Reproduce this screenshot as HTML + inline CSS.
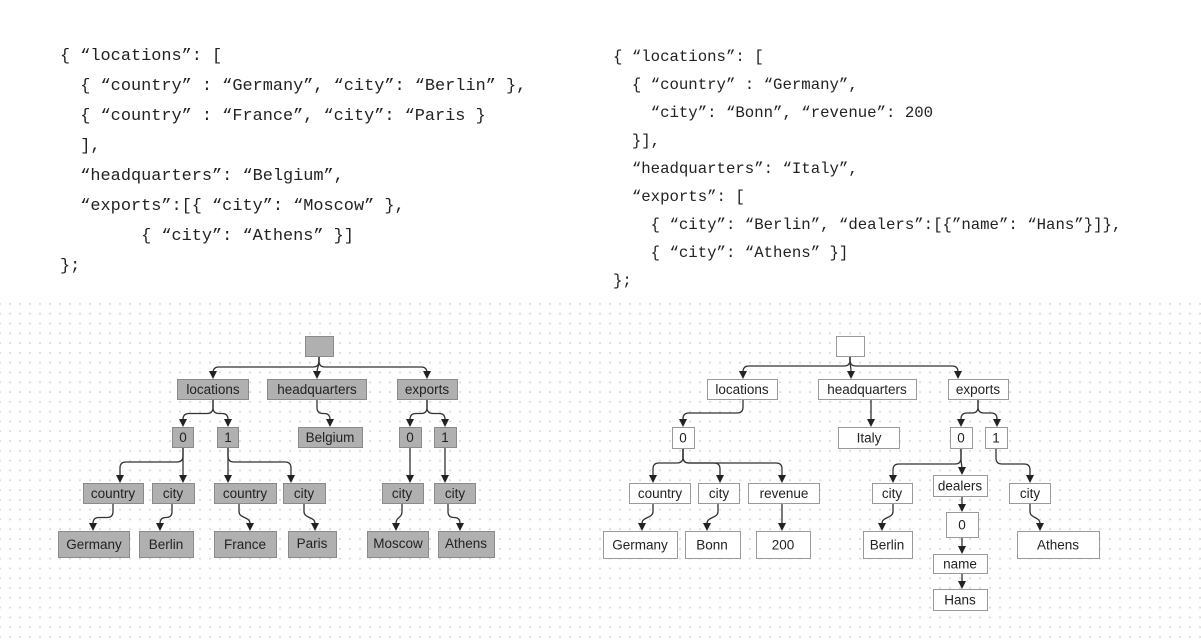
<!DOCTYPE html>
<html><head><meta charset="utf-8">
<style>
html,body{margin:0;padding:0;background:#fff;width:1201px;height:641px;overflow:hidden;position:relative}
.dots{position:absolute;left:0;top:299px;width:1201px;height:342px;background-image:radial-gradient(circle,#dadada 0.8px,transparent 1.2px);background-size:10px 9.8px;background-position:5px 0}
pre{position:absolute;margin:0;font-family:"Liberation Mono",monospace;color:#222}
#c1{left:60px;top:42px;font-size:16.9px;line-height:30px}
#c2{left:613px;top:43px;font-size:15.7px;line-height:28px}
svg{position:absolute;left:0;top:0}
svg text{font-family:"Liberation Sans",sans-serif;font-size:13.5px;fill:#222;text-anchor:middle;dominant-baseline:central}
.g rect{fill:#b0b0b0;stroke:#8a8a8a;stroke-width:1}
.w rect{fill:#fff;stroke:#9a9a9a;stroke-width:1}
</style></head><body>
<div class="dots"></div>
<pre id="c1">{ “locations”: [
  { “country” : “Germany”, “city”: “Berlin” },
  { “country” : “France”, “city”: “Paris }
  ],
  “headquarters”: “Belgium”,
  “exports”:[{ “city”: “Moscow” },
        { “city”: “Athens” }]
};</pre>
<pre id="c2">{ “locations”: [
  { “country” : “Germany”,
    “city”: “Bonn”, “revenue”: 200
  }],
  “headquarters”: “Italy”,
  “exports”: [
    { “city”: “Berlin”, “dealers”:[{”name”: “Hans”}]},
    { “city”: “Athens” }]
};</pre>
<svg width="1201" height="641" xmlns="http://www.w3.org/2000/svg">
<g id="edges" fill="none" stroke="#333" stroke-width="1.3"></g>
<g id="heads" fill="#222"></g>
<g class="g">
<rect x="305.5" y="336.5" width="28" height="20"/>
<rect x="177.5" y="379.5" width="71" height="20"/><text x="213" y="389.5">locations</text>
<rect x="267.5" y="379.5" width="99" height="20"/><text x="317" y="389.5">headquarters</text>
<rect x="397.5" y="379.5" width="60" height="20"/><text x="427" y="389.5">exports</text>
<rect x="172.5" y="427.5" width="21" height="20"/><text x="183" y="437.5">0</text>
<rect x="217.5" y="427.5" width="21" height="20"/><text x="228" y="437.5">1</text>
<rect x="298.5" y="427.5" width="64" height="20"/><text x="330" y="437.5">Belgium</text>
<rect x="399.5" y="427.5" width="22" height="20"/><text x="410" y="437.5">0</text>
<rect x="434.5" y="427.5" width="22" height="20"/><text x="445" y="437.5">1</text>
<rect x="83.5" y="483.5" width="60" height="20"/><text x="113" y="493.5">country</text>
<rect x="152.5" y="483.5" width="42" height="20"/><text x="173" y="493.5">city</text>
<rect x="214.5" y="483.5" width="62" height="20"/><text x="245" y="493.5">country</text>
<rect x="283.5" y="483.5" width="42" height="20"/><text x="304" y="493.5">city</text>
<rect x="382.5" y="483.5" width="41" height="20"/><text x="402" y="493.5">city</text>
<rect x="434.5" y="483.5" width="41" height="20"/><text x="455" y="493.5">city</text>
<rect x="58.5" y="531.5" width="71" height="26"/><text x="94" y="544.5">Germany</text>
<rect x="139.5" y="531.5" width="54" height="26"/><text x="166" y="544.5">Berlin</text>
<rect x="214.5" y="531.5" width="62" height="26"/><text x="245" y="544.5">France</text>
<rect x="288.5" y="531.5" width="48" height="26"/><text x="312" y="543.5">Paris</text>
<rect x="367.5" y="531.5" width="61" height="26"/><text x="398" y="543.5">Moscow</text>
<rect x="438.5" y="531.5" width="56" height="26"/><text x="466" y="543.5">Athens</text>
</g>
<g class="w">
<rect x="836.5" y="336.5" width="28" height="20"/>
<rect x="707.5" y="379.5" width="70" height="20"/><text x="742" y="389.5">locations</text>
<rect x="818.5" y="379.5" width="98" height="20"/><text x="867" y="389.5">headquarters</text>
<rect x="948.5" y="379.5" width="60" height="20"/><text x="978" y="389.5">exports</text>
<rect x="672.5" y="427.5" width="22" height="21"/><text x="683" y="438">0</text>
<rect x="838.5" y="427.5" width="61" height="21"/><text x="869" y="438">Italy</text>
<rect x="950.5" y="427.5" width="22" height="21"/><text x="961" y="438">0</text>
<rect x="985.5" y="427.5" width="22" height="21"/><text x="996" y="438">1</text>
<rect x="629.5" y="483.5" width="61" height="20"/><text x="660" y="493.5">country</text>
<rect x="698.5" y="483.5" width="41" height="20"/><text x="719" y="493.5">city</text>
<rect x="748.5" y="483.5" width="71" height="20"/><text x="784" y="493.5">revenue</text>
<rect x="872.5" y="483.5" width="40" height="20"/><text x="892" y="493.5">city</text>
<rect x="933.5" y="475.5" width="54" height="21"/><text x="960" y="486">dealers</text>
<rect x="1009.5" y="483.5" width="41" height="20"/><text x="1030" y="493.5">city</text>
<rect x="603.5" y="531.5" width="74" height="27"/><text x="640" y="545">Germany</text>
<rect x="685.5" y="531.5" width="55" height="27"/><text x="712" y="545">Bonn</text>
<rect x="756.5" y="531.5" width="54" height="27"/><text x="783" y="545">200</text>
<rect x="863.5" y="531.5" width="49" height="27"/><text x="887" y="545">Berlin</text>
<rect x="1017.5" y="531.5" width="82" height="27"/><text x="1058" y="545">Athens</text>
<rect x="946.5" y="512.5" width="32" height="25"/><text x="962" y="525">0</text>
<rect x="933.5" y="554.5" width="54" height="19"/><text x="960" y="564">name</text>
<rect x="933.5" y="589.5" width="54" height="21"/><text x="960" y="600">Hans</text>
</g>
</svg>
<script>
var E=document.getElementById('edges'),H=document.getElementById('heads'),NS='http://www.w3.org/2000/svg';
function e(px,pb,cx,ct,m){
  var r=6,d,end=ct-7;
  if(m===undefined)m=(pb+ct)/2;
  var dx=cx-px;
  if(Math.abs(dx)<1){d='M'+px+' '+pb+' V'+end;}
  else if(Math.abs(dx)<2*r){d='M'+px+' '+pb+' V'+(m-r)+' C'+px+' '+(m+1)+' '+cx+' '+(m-1)+' '+cx+' '+(m+r)+' V'+end;}
  else{var s=dx>0?1:-1;d='M'+px+' '+pb+' V'+(m-r)+' Q'+px+' '+m+' '+(px+s*r)+' '+m+' H'+(cx-s*r)+' Q'+cx+' '+m+' '+cx+' '+(m+r)+' V'+end;}
  var p=document.createElementNS(NS,'path');p.setAttribute('d',d);E.appendChild(p);
  var t=document.createElementNS(NS,'polygon');t.setAttribute('points',(cx-4)+','+(ct-8)+' '+(cx+4)+','+(ct-8)+' '+cx+','+ct);H.appendChild(t);
}
e(319,357,213,379,367);e(319,357,317,379,367);e(319,357,427,379,367);
e(213,400,183,427);e(213,400,228,427);
e(317,400,330,427);
e(427,400,410,427);e(427,400,445,427);
e(183,448,120,483,462);e(183,448,183,483,462);
e(228,448,228,483,462);e(228,448,291,483,462);
e(410,448,410,483);e(445,448,445,483);
e(113,504,93,531);e(172,504,160,531);e(239,504,250,531);e(304,504,315,531);
e(402,504,396,531);e(448,504,460,531);
e(850,357,743,379,366);e(850,357,851,379,366);e(850,357,958,379,366);
e(743,400,683,427,413);
e(871,400,871,427);
e(978,400,961,427,413);e(978,400,997,427,413);
e(683,449,653,483,463);e(683,449,720,483,463);e(683,449,782,483,463);
e(961,449,893,483,464);e(961,449,962,475,464);
e(996,449,1030,483,464);
e(653,504,642,531);e(718,504,707,531);e(782,504,782,531);
e(893,504,882,531);e(1030,504,1040,531);
e(962,497,962,512);e(962,538,962,554);e(962,574,962,589);
</script>
</body></html>
